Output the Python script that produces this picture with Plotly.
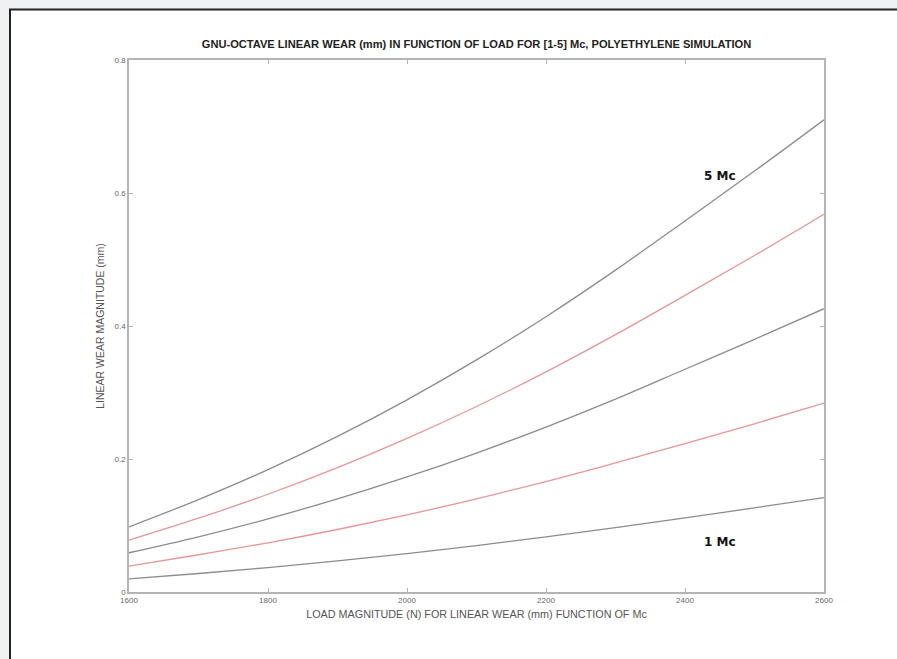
import plotly.graph_objects as go

load_n = [1600, 1700, 1800, 1900, 2000, 2100, 2200, 2300, 2400, 2500, 2600]
wear_1mc = [0.0196, 0.0278, 0.0368, 0.0468, 0.0578, 0.0698, 0.0828, 0.0968, 0.1116, 0.1266, 0.142]
wear_2mc = [0.039, 0.056, 0.074, 0.094, 0.116, 0.140, 0.166, 0.194, 0.223, 0.253, 0.284]
wear_3mc = [0.059, 0.083, 0.110, 0.140, 0.173, 0.209, 0.248, 0.290, 0.335, 0.380, 0.426]
wear_4mc = [0.078, 0.111, 0.147, 0.187, 0.231, 0.279, 0.331, 0.387, 0.446, 0.506, 0.568]
wear_5mc = [0.098, 0.139, 0.184, 0.234, 0.289, 0.349, 0.414, 0.484, 0.558, 0.633, 0.710]

series = [
    ("1 Mc", wear_1mc, "rgb(140,140,140)"),
    ("2 Mc", wear_2mc, "rgb(232,150,150)"),
    ("3 Mc", wear_3mc, "rgb(140,140,140)"),
    ("4 Mc", wear_4mc, "rgb(232,150,150)"),
    ("5 Mc", wear_5mc, "rgb(140,140,140)"),
]

x_ticks = [1600, 1800, 2000, 2200, 2400, 2600]
y_ticks = [0, 0.2, 0.4, 0.6, 0.8]

fig = go.Figure()
for name, vals, col in series:
    fig.add_trace(go.Scatter(x=load_n, y=vals, mode="lines", name=name,
                             line=dict(color=col, width=1.3, shape="spline")))

W, H = 897, 659
L, R, T, B = 129, 73, 60, 67
pw, ph = W - L - R, H - T - B


def px(xp):
    return (xp - L) / pw


def py(yp):
    return (H - B - yp) / ph


fig.add_shape(type="rect", xref="paper", yref="paper",
              x0=px(10), x1=px(905), y0=py(9.5), y1=py(680),
              fillcolor="white", line=dict(color="#222", width=2), layer="below")

fig.add_annotation(x=2450, y=0.625, text="<b>5 Mc</b>", showarrow=False,
                   font=dict(family="DejaVu Sans", size=12, color="#111"))
fig.add_annotation(x=2450, y=0.075, text="<b>1 Mc</b>", showarrow=False,
                   font=dict(family="DejaVu Sans", size=12, color="#111"))

axis_common = dict(showgrid=False, zeroline=False, showline=True, linecolor="#b4b4b4",
                   linewidth=1.5, mirror="allticks", ticks="inside", ticklen=4,
                   tickcolor="#b4b4b4", tickfont=dict(family="Liberation Sans", size=8, color="#666"))

fig.update_layout(
    width=W, height=H,
    margin=dict(l=L, r=R, t=T, b=B),
    paper_bgcolor="#eff1f3", plot_bgcolor="white",
    showlegend=False,
    title=dict(text="<b>GNU-OCTAVE LINEAR WEAR (mm) IN FUNCTION OF LOAD FOR [1-5] Mc, POLYETHYLENE SIMULATION</b>",
               xref="container", x=476.5 / W, xanchor="center", y=1 - 44 / H, yanchor="middle",
               font=dict(family="Liberation Sans", size=11.1, color="#222")),
    xaxis=dict(range=[1600, 2600], tickvals=x_ticks,
               title=dict(text="LOAD MAGNITUDE (N) FOR LINEAR WEAR (mm) FUNCTION OF Mc",
                          font=dict(family="Liberation Sans", size=10.8, color="#555"), standoff=6),
               **axis_common),
    yaxis=dict(range=[0, 0.8], tickvals=y_ticks,
               title=dict(text="LINEAR WEAR MAGNITUDE (mm)",
                          font=dict(family="Liberation Sans", size=10.5, color="#555"), standoff=8),
               **axis_common),
)

fig.write_html("out.html")
